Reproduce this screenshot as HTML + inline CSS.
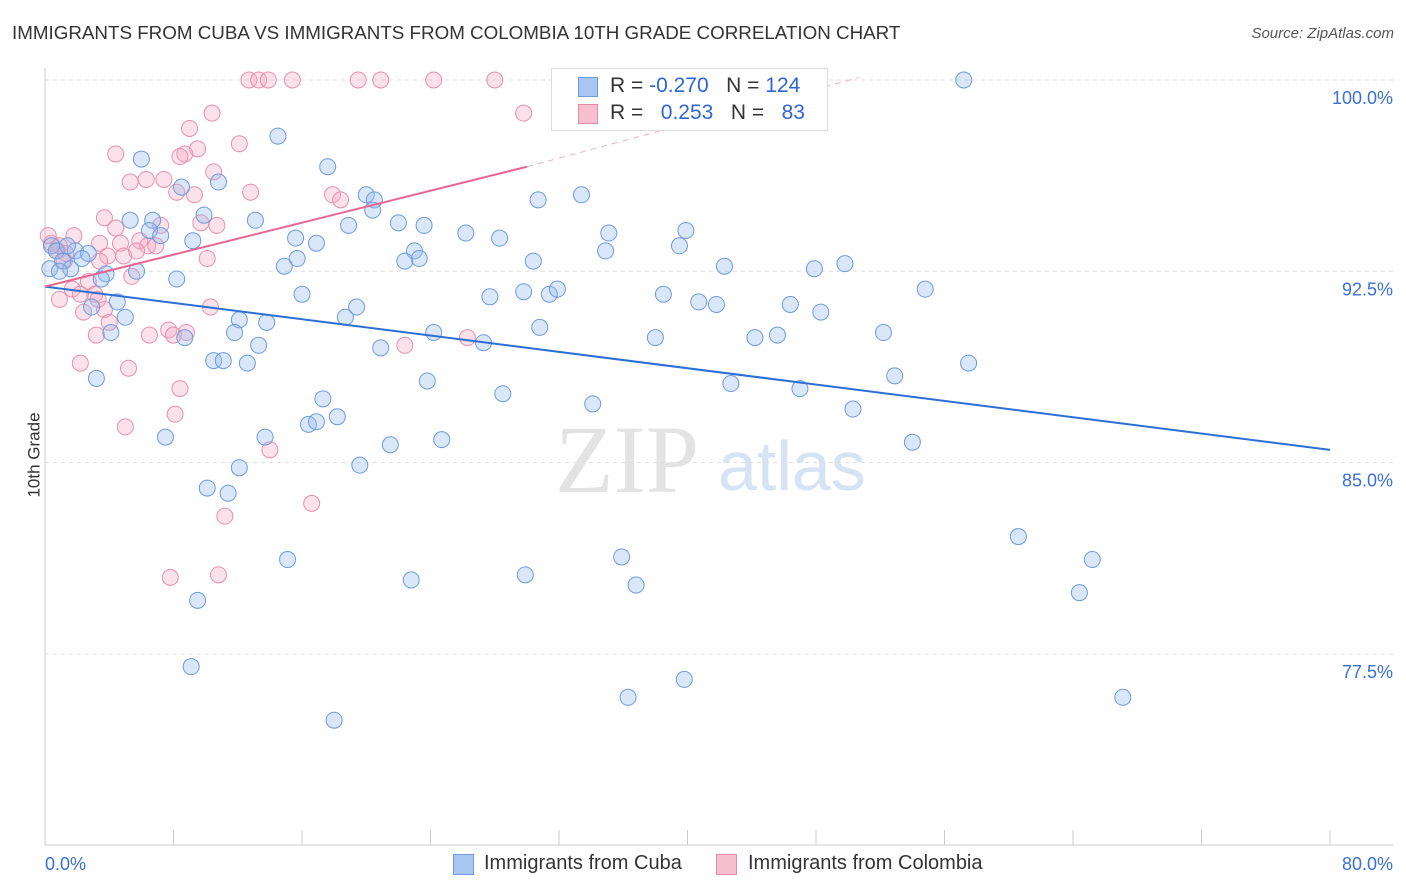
<!DOCTYPE html>
<html><head><meta charset="utf-8">
<style>
body{margin:0;background:#fff;font-family:"Liberation Sans",sans-serif;}
#wrap{position:relative;width:1406px;height:892px;overflow:hidden;}
.t{position:absolute;white-space:nowrap;}
</style></head>
<body>
<div id="wrap">
<div class="t" style="left:12px;top:22px;font-size:18.8px;color:#333;">IMMIGRANTS FROM CUBA VS IMMIGRANTS FROM COLOMBIA 10TH GRADE CORRELATION CHART</div>
<div class="t" style="right:12px;top:25px;font-size:15px;color:#555;font-style:italic;">Source: ZipAtlas.com</div>
<div class="t" style="left:-8px;top:445px;font-size:17px;color:#333;transform:rotate(-90deg);">10th Grade</div>
<svg id="plot" width="1406" height="892" style="position:absolute;left:0;top:0"></svg>
<div style="position:absolute;left:551px;top:68px;width:275px;height:61px;border:1px solid #ddd;background:#fff;font-size:21px;">
  <div style="position:absolute;left:26px;top:8px;width:18px;height:18px;background:#a9c6f0;border:1px solid #6d9be0;"></div>
  <div class="t" style="left:58px;top:5px;color:#333;">R = <span style="color:#2e66d0">-0.270</span>&nbsp;&nbsp;&nbsp;N = <span style="color:#2e66d0">124</span></div>
  <div style="position:absolute;left:26px;top:35px;width:18px;height:18px;background:#f7bfd0;border:1px solid #e889a8;"></div>
  <div class="t" style="left:58px;top:32px;color:#333;">R = &nbsp;&nbsp;<span style="color:#2e66d0">0.253</span>&nbsp;&nbsp;&nbsp;N = &nbsp;&nbsp;<span style="color:#2e66d0">83</span></div>
</div>
<div style="position:absolute;left:453px;top:854px;width:19px;height:19px;background:#a9c6f0;border:1px solid #6d9be0;"></div>
<div class="t" style="left:484px;top:852px;font-size:20px;color:#333;">Immigrants from Cuba</div>
<div style="position:absolute;left:716px;top:854px;width:19px;height:19px;background:#f7bfd0;border:1px solid #e889a8;"></div>
<div class="t" style="left:748px;top:852px;font-size:20px;color:#333;">Immigrants from Colombia</div>
</div>
<script>
const yTicks=[100,92.5,85,77.5];
const yTickLabels=["100.0%","92.5%","85.0%","77.5%"];
const xTickLabels=["0.0%","80.0%"];
const cubaX=[57.2,14.5,6.0,17.6,8.5,10.8,20.0,33.4,30.7,20.5,20.4,6.7,5.3,13.1,9.9,6.5,7.2,18.9,22.0,23.6,26.2,28.3,39.9,35.1,15.6,16.9,9.2,39.5,23.0,23.3,22.4,15.7,14.9,30.4,34.9,42.3,47.9,49.8,5.7,3.8,3.5,8.2,54.8,16.0,27.7,29.8,31.4,31.9,38.5,40.7,41.8,46.4,48.3,4.5,2.9,5.0,19.4,18.7,13.8,12.1,11.8,4.1,24.2,30.8,52.2,38.0,44.2,45.6,8.7,13.3,20.9,27.3,10.5,11.1,12.6,57.5,3.2,23.8,42.7,52.9,47.0,28.5,17.3,34.1,50.3,18.2,16.4,16.9,7.5,13.7,21.5,24.7,54.0,12.1,19.6,10.1,11.4,60.6,15.1,35.9,65.2,22.8,29.9,36.8,64.4,9.5,9.1,36.3,39.8,67.1,18.0,0.4,0.7,1.1,1.6,0.3,1.9,2.7,2.3,1.4,0.9];
const cubaY=[100,97.8,96.9,96.6,95.8,96.0,95.5,95.5,95.3,95.3,94.9,94.5,94.5,94.5,94.7,94.1,93.9,94.3,94.4,94.3,94.0,93.8,94.1,94.0,93.8,93.6,93.7,93.5,93.3,93.0,92.9,93.0,92.7,92.9,93.3,92.7,92.6,92.8,92.5,92.4,92.2,92.2,91.8,91.6,91.5,91.7,91.6,91.8,91.6,91.3,91.2,91.2,90.9,91.3,91.1,90.7,91.1,90.7,90.5,90.6,90.1,90.1,90.1,90.3,90.1,89.9,89.9,90.0,89.9,89.6,89.5,89.7,89.0,89.0,88.9,88.9,88.3,88.2,88.1,88.4,87.9,87.7,87.5,87.3,87.1,86.8,86.5,86.6,86.0,86.0,85.7,85.9,85.8,84.8,84.9,84.0,83.8,82.1,81.2,81.3,81.2,80.4,80.6,80.2,79.9,79.6,77.0,75.8,76.5,75.8,74.9,93.5,93.3,92.9,92.6,92.6,93.3,93.2,93.0,93.5,92.5];
const colX=[12.7,13.3,13.9,15.4,19.5,20.9,24.2,28.0,10.4,29.8,9.0,12.1,4.4,9.5,8.7,8.4,10.5,5.3,6.3,7.4,8.2,9.3,12.8,17.9,18.4,3.7,7.2,9.7,10.7,4.4,1.8,3.4,4.7,5.9,6.4,4.9,3.9,5.7,6.9,10.1,3.4,2.7,0.9,1.7,3.1,2.2,3.3,5.4,3.7,2.4,4.0,3.2,6.5,7.7,8.0,8.8,10.3,22.4,26.3,2.2,5.2,8.4,8.1,5.0,14.0,16.6,11.2,7.8,10.8,0.4,0.8,1.2,0.2,0.9,1.3];
const colY=[100,100,100,100,100,100,100,100,98.7,98.7,98.1,97.5,97.1,97.3,97.1,97.0,96.4,96.0,96.1,96.1,95.6,95.5,95.6,95.5,95.3,94.6,94.3,94.4,94.3,94.2,93.9,93.6,93.6,93.7,93.5,93.1,93.1,93.3,93.5,93.0,92.9,92.1,91.4,91.8,91.6,91.6,91.4,92.3,91.0,90.9,90.5,90.0,90.0,90.2,90.0,90.1,91.1,89.6,89.9,88.9,88.7,87.9,86.9,86.4,85.5,83.4,82.9,80.5,80.6,93.6,93.3,92.9,93.9,93.5,93.2];
const cubaTrendX=[0,80], cubaTrendY=[91.9,85.5];
const colTrendX=[0,30.0], colTrendY=[91.9,96.6];
const colDashX=[30.0,50.7], colDashY=[96.6,100.1];

const X0=45,X1=1330,Y100=80,YPX=191.3;
const sx=v=>X0+(X1-X0)*v/80;
const sy=v=>Y100+(100-v)/7.5*YPX;
const svg=document.getElementById('plot');
const NS='http://www.w3.org/2000/svg';
function mk(tag,attrs){const e=document.createElementNS(NS,tag);for(const k in attrs)e.setAttribute(k,attrs[k]);svg.appendChild(e);return e;}

let w=mk('text',{x:555,y:492,'font-size':96,fill:'#e3e3e3','font-family':'Liberation Serif, serif'});w.textContent='ZIP';


w=mk('text',{x:718,y:490,'font-size':70,fill:'#d6e3f5','font-family':'Liberation Sans, sans-serif'});w.textContent='atlas';



yTicks.forEach((t,i)=>{
  const g=mk('line',{x1:X0,x2:1393,y1:sy(t),y2:sy(t),stroke:'#ddd','stroke-dasharray':'4,4'});
  
  
  const l=mk('text',{x:1393,y:sy(t)+24,'text-anchor':'end','font-size':18,fill:'#3b6fd4','font-family':'Liberation Sans, sans-serif'});
  l.textContent=yTickLabels[i];
  
  
});
let a=mk('line',{x1:X0,x2:X0,y1:68,y2:845,stroke:'#ccc'});


a=mk('line',{x1:X0,x2:1393,y1:845,y2:845,stroke:'#ccc'});


for(let i=0;i<=10;i++){
  const t=mk('line',{x1:sx(i*8),x2:sx(i*8),y1:830,y2:845,stroke:'#ccc'});
  
  
}
[[0,'start',45],[80,'end',1393]].forEach((d,i)=>{
  const l=mk('text',{x:d[2],y:870,'text-anchor':d[1],'font-size':18,fill:'#3b6fd4','font-family':'Liberation Sans, sans-serif'});
  l.textContent=xTickLabels[i];
  
  
});

colX.forEach((x,i)=>{
  const c=mk('circle',{cx:sx(x),cy:sy(colY[i]),r:8,fill:'rgba(244,170,195,0.35)',stroke:'#e98fae','stroke-width':1});
  
  
});
cubaX.forEach((x,i)=>{
  const c=mk('circle',{cx:sx(x),cy:sy(cubaY[i]),r:8,fill:'rgba(150,185,236,0.35)',stroke:'#6d9be0','stroke-width':1});
  
  
});
let tl=mk('line',{x1:sx(cubaTrendX[0]),y1:sy(cubaTrendY[0]),x2:sx(cubaTrendX[1]),y2:sy(cubaTrendY[1]),stroke:'#2a6fd6','stroke-width':2});


tl=mk('line',{x1:sx(colTrendX[0]),y1:sy(colTrendY[0]),x2:sx(colTrendX[1]),y2:sy(colTrendY[1]),stroke:'#e8658f','stroke-width':2});


tl=mk('line',{x1:sx(colDashX[0]),y1:sy(colDashY[0]),x2:sx(colDashX[1]),y2:sy(colDashY[1]),stroke:'#f0b0c4','stroke-width':1,'stroke-dasharray':'6,5'});


</script>
</body></html>
